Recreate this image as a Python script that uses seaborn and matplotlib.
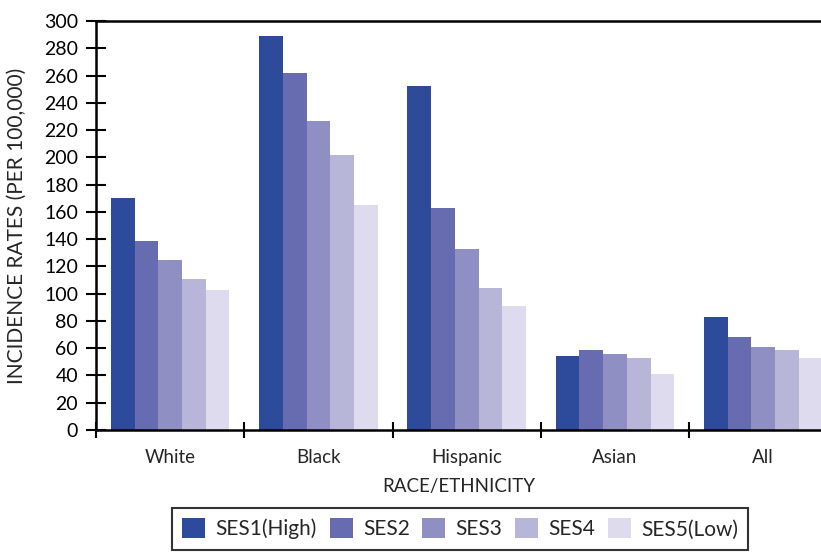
import pandas as pd
import numpy as np
from matplotlib import pyplot as plt
import seaborn as sns

# incidence rates per 100,000
races = ["White", "Black", "Hispanic", "Asian", "All"]
ses_levels = ["SES1(High)", "SES2", "SES3", "SES4", "SES5(Low)"]
ses1 = [170, 289, 252, 54, 83]
ses2 = [139, 262, 163, 59, 68]
ses3 = [125, 227, 133, 56, 61]
ses4 = [111, 202, 104, 53, 59]
ses5 = [103, 165, 91, 41, 53]
colors = ["#2e4a9b", "#676cb0", "#8f8fc3", "#b7b6d9", "#dddbed"]

rows = []
for level, vals in zip(ses_levels, [ses1, ses2, ses3, ses4, ses5]):
    for race, v in zip(races, vals):
        rows.append({"race": race, "ses": level, "rate": v})
df = pd.DataFrame(rows)

sns.set_style("white")
plt.rcParams["font.family"] = ["Lato", "DejaVu Sans"]

fig = plt.figure(figsize=(8.21, 5.53), dpi=100)
ax = fig.add_axes([0.117, 0.2224, 0.883, 0.7396])

sns.barplot(data=df, x="race", y="rate", hue="ses", order=races, hue_order=ses_levels,
            palette=colors, width=0.8, saturation=1, linewidth=0, ax=ax, legend=True)

ax.set_ylim(0, 300)
ax.set_xlim(-0.5, 4.39)
ax.set_yticks(range(0, 301, 20))
ax.tick_params(axis="y", left=True, labelsize=14, direction="inout", length=14, width=1.5,
               colors="black", pad=6)
ax.tick_params(axis="x", which="major", bottom=False, labelsize=13.5, pad=10)
ax.set_xticks(np.arange(-0.5, 4.5, 1.0), minor=True)
ax.tick_params(axis="x", which="minor", bottom=True, direction="inout", length=12, width=1.5,
               color="black")

for side in ["left", "bottom", "top"]:
    ax.spines[side].set_visible(True)
    ax.spines[side].set_color("black")
    ax.spines[side].set_linewidth(1.8)
ax.spines["right"].set_visible(False)

ax.set_xlabel("RACE/ETHNICITY", fontsize=13.5, labelpad=9)
ax.set_ylabel("INCIDENCE RATES (PER 100,000)", fontsize=15, labelpad=12)

handles, labels = ax.get_legend_handles_labels()
ax.get_legend().remove()
leg = fig.legend(handles, labels, loc="upper left", bbox_to_anchor=(0.2095, 0.0814),
                 borderaxespad=0, ncol=5, fontsize=15, frameon=True, fancybox=False,
                 edgecolor="black", handlelength=1.1, handleheight=1.1, handletextpad=0.5,
                 columnspacing=0.6, borderpad=0.5)
leg.get_frame().set_linewidth(1.5)

fig.savefig("out.png", dpi=100)
